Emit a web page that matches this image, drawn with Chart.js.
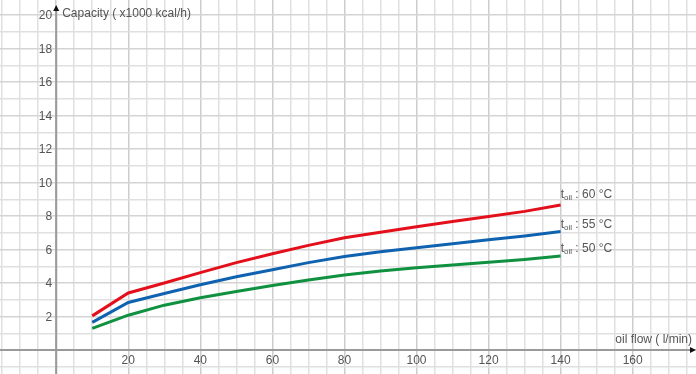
<!DOCTYPE html>
<html>
<head>
<meta charset="utf-8">
<script src="https://cdn.jsdelivr.net/npm/chart.js@4/dist/chart.umd.min.js"></script>
<style>
  html, body { margin: 0; padding: 0; background: #ffffff; }
  #wrap { width: 696px; height: 374px; position: relative; }
</style>
</head>
<body>
<div id="wrap"><canvas id="c" width="696" height="374"></canvas></div>
<script>
// ---- data ----
const oilFlow = [10, 20, 30, 40, 50, 60, 70, 80, 90, 100, 110, 120, 130, 140];
const cap60 = [2.04, 3.41, 4.00, 4.62, 5.22, 5.75, 6.25, 6.70, 7.03, 7.36, 7.68, 7.98, 8.28, 8.66];
const cap55 = [1.65, 2.84, 3.38, 3.90, 4.38, 4.80, 5.22, 5.58, 5.87, 6.11, 6.35, 6.58, 6.81, 7.08];
const cap50 = [1.29, 2.08, 2.68, 3.12, 3.50, 3.85, 4.18, 4.48, 4.72, 4.92, 5.08, 5.24, 5.41, 5.61];
const seriesTemps = ['60 °C', '55 °C', '50 °C'];
const seriesColors = ['#e3101c', '#0f62b0', '#0f9140'];
const xTickLabels = ['20', '40', '60', '80', '100', '120', '140', '160'];
const yTickLabels = ['2', '4', '6', '8', '10', '12', '14', '16', '18', '20'];
const yAxisTitle = 'Capacity ( x1000 kcal/h)';
const xAxisTitle = 'oil flow ( l/min)';

const toPts = arr => oilFlow.map((x, i) => ({ x: x, y: arr[i] }));
const allSeries = [cap60, cap55, cap50];

const TXT = '#555555';
const FONT = '12px "Liberation Sans", Arial, sans-serif';

const overlay = {
  id: 'overlay',
  beforeDatasetsDraw(chart) {
    const ctx = chart.ctx;
    const xs = chart.scales.x, ys = chart.scales.y;
    const x0 = xs.getPixelForValue(0), y0 = ys.getPixelForValue(0);
    ctx.save();
    ctx.strokeStyle = '#9a9a9a';
    ctx.lineWidth = 2;
    ctx.beginPath();
    ctx.moveTo(x0, 8); ctx.lineTo(x0, chart.height);
    ctx.moveTo(0, y0); ctx.lineTo(chart.width - 4, y0);
    ctx.stroke();
    // arrow heads
    ctx.fillStyle = '#111';
    ctx.beginPath();
    ctx.moveTo(x0, 5); ctx.lineTo(x0 - 3, 11); ctx.lineTo(x0 + 3, 11); ctx.closePath(); ctx.fill();
    ctx.beginPath();
    ctx.moveTo(chart.width, y0); ctx.lineTo(chart.width - 6, y0 - 3); ctx.lineTo(chart.width - 6, y0 + 3); ctx.closePath(); ctx.fill();
    ctx.restore();
  },
  afterDatasetsDraw(chart) {
    const ctx = chart.ctx;
    const xs = chart.scales.x, ys = chart.scales.y;
    const x0 = xs.getPixelForValue(0), y0 = ys.getPixelForValue(0);
    ctx.save();
    ctx.font = FONT;
    ctx.fillStyle = TXT;
    // y tick labels
    ctx.textAlign = 'right'; ctx.textBaseline = 'middle';
    yTickLabels.forEach(t => ctx.fillText(t, x0 - 4, ys.getPixelForValue(Number(t)) + 1));
    // x tick labels
    ctx.textAlign = 'center'; ctx.textBaseline = 'middle';
    xTickLabels.forEach(t => ctx.fillText(t, xs.getPixelForValue(Number(t)), y0 + 11));
    // axis titles
    ctx.textAlign = 'left';
    ctx.fillText(yAxisTitle, x0 + 6, 14);
    ctx.textAlign = 'right';
    ctx.fillText(xAxisTitle, chart.width - 4, y0 - 10);
    // series labels
    const lastX = oilFlow[oilFlow.length - 1];
    const offs = [-10, -7, -7];
    allSeries.forEach((arr, i) => {
      const px = xs.getPixelForValue(lastX);
      const py = ys.getPixelForValue(arr[arr.length - 1]) + offs[i];
      ctx.textAlign = 'left'; ctx.textBaseline = 'middle';
      ctx.font = FONT;
      ctx.fillText('t', px, py);
      let w = ctx.measureText('t').width;
      ctx.font = '8px "Liberation Sans", Arial, sans-serif';
      ctx.fillText('oil', px + w, py + 3);
      w += ctx.measureText('oil').width;
      ctx.font = FONT;
      ctx.fillText(' : ' + seriesTemps[i], px + w, py);
    });
    ctx.restore();
  }
};

const gridVals = (from, to, step) => { const v = []; for (let a = from; a <= to + 1e-9; a += step) v.push(a); return v; };

new Chart(document.getElementById('c'), {
  type: 'line',
  data: {
    datasets: allSeries.map((arr, i) => ({
      label: 't oil : ' + seriesTemps[i],
      data: toPts(arr),
      borderColor: seriesColors[i],
      backgroundColor: seriesColors[i],
      borderWidth: 3,
      pointRadius: 0,
      tension: 0,
      fill: false
    }))
  },
  options: {
    responsive: false,
    animation: false,
    layout: { padding: 0 },
    plugins: { legend: { display: false }, tooltip: { enabled: false } },
    scales: {
      x: {
        type: 'linear',
        min: -15.6, max: 177.57,
        afterBuildTicks: s => { s.ticks = gridVals(-15, 175, 5).map(v => ({ value: v })); },
        ticks: { display: false },
        border: { display: false },
        grid: {
          drawTicks: false,
          lineWidth: 1.5,
          color: c => (c.tick && Math.abs(c.tick.value % 20) < 1e-6) ? '#cdcdcd' : '#e0e0e0'
        }
      },
      y: {
        type: 'linear',
        min: -1.43, max: 20.9,
        afterBuildTicks: s => { s.ticks = gridVals(-1, 20, 1).map(v => ({ value: v })); },
        ticks: { display: false },
        border: { display: false },
        grid: {
          drawTicks: false,
          lineWidth: 1.5,
          color: c => (c.tick && Math.abs(c.tick.value % 2) < 1e-6) ? '#d4d4d4' : '#e0e0e0'
        }
      }
    }
  },
  plugins: [overlay]
});
</script>
</body>
</html>
